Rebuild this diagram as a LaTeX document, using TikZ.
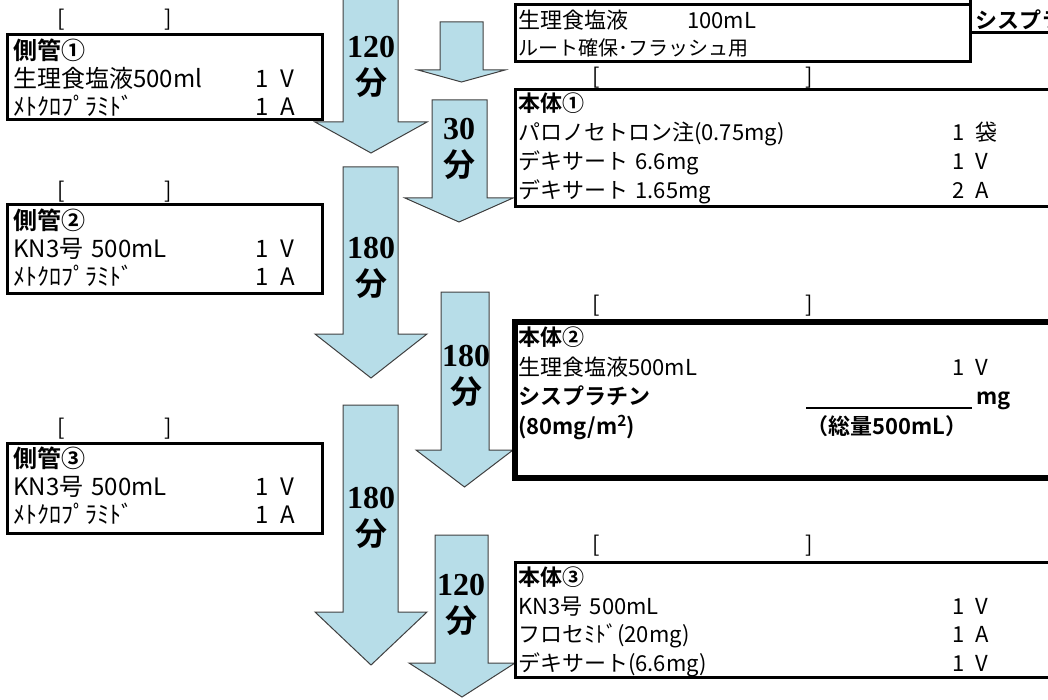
\documentclass[tikz,border=0pt]{standalone}
\usepackage{fontspec}
\setmainfont{Noto Sans CJK JP}[BoldFont={Noto Sans CJK JP Bold}]
\newfontfamily\numfont{Liberation Serif}
\usetikzlibrary{positioning}
\definecolor{flowblue}{RGB}{183,221,232}
\tikzstyle{flow} = [fill=flowblue, draw=black!75, line width=1pt, line join=miter]
\tikzstyle{minutes} = [inner sep=0pt, align=center, font=\bfseries\fontsize{32}{37}\selectfont]
\tikzstyle{sidebox} = [rectangle, draw=black, line width=3pt, outer sep=0pt, anchor=north west, minimum width=315pt]
\tikzstyle{mainbox} = [rectangle, draw=black, line width=3pt, outer sep=0pt, anchor=north west, minimum width=560pt]
\tikzstyle{boxtext} = [inner sep=0pt, align=left, text width=540pt, font=\fontsize{22}{29}\selectfont]
\tikzstyle{sidetext} = [boxtext, text width=300pt, font=\fontsize{24}{28}\selectfont]
\tikzstyle{bracket} = [inner sep=0pt, anchor=west, font=\fontsize{22}{22}\selectfont]
\newcommand{\flowarrow}[7]{%
  \draw[flow] (#1,#3) -- (#2,#3) -- (#2,#4) -- (#6,#4) -- ({(#5+#6)/2},#7) -- (#5,#4) -- (#1,#4) -- cycle;}

\begin{document}
\begin{tikzpicture}[x=1pt, y=-1pt]
\useasboundingbox (0,0) rectangle (1048,700);
\clip (0,0) rectangle (1048,700);

% block arrows
\flowarrow{343}{398}{-5}{122}{315}{427}{153}
\flowarrow{440}{483}{22}{70}{418}{505}{82}
\flowarrow{432}{487}{100}{198}{405}{513}{222}
\flowarrow{343}{398}{167}{334}{315}{427}{378}
\flowarrow{441}{489}{292}{450}{416}{513}{487}
\flowarrow{343}{398}{405}{612}{315}{427}{665}
\flowarrow{435}{488}{535}{663}{409}{515}{697}

\node[minutes] (min1) at (371,67) {{\numfont 120}\\分};
\node[minutes] (min2) at (459,149) {{\numfont 30}\\分};
\node[minutes] (min3) at (371,268) {{\numfont 180}\\分};
\node[minutes] (min4) at (466,376) {{\numfont 180}\\分};
\node[minutes] (min5) at (371,518) {{\numfont 180}\\分};
\node[minutes] (min6) at (461,605) {{\numfont 120}\\分};

% side lines
\node[sidebox, minimum height=85pt] (side1) at (7,35) {};
\node[sidebox, minimum height=88pt] (side2) at (7,205) {};
\node[sidebox, minimum height=90pt] (side3) at (7,443) {};

\node[bracket] (side1b) at (57,20) {[\hspace{100pt}]};
\node[bracket] (side2b) at (57,192) {[\hspace{100pt}]};
\node[bracket] (side3b) at (57,429) {[\hspace{100pt}]};

\node[sidetext, below right=4pt and 6pt of side1.north west] (side1t) {\textbf{側管①}\\
  \makebox[242pt][l]{生理食塩液500ml}1\enspace V\\
  \makebox[242pt][l]{ﾒﾄｸﾛﾌﾟﾗﾐﾄﾞ}1\enspace A};
\node[sidetext, below right=4pt and 6pt of side2.north west] (side2t) {\textbf{側管②}\\
  \makebox[242pt][l]{KN3号 500mL}1\enspace V\\
  \makebox[242pt][l]{ﾒﾄｸﾛﾌﾟﾗﾐﾄﾞ}1\enspace A};
\node[sidetext, below right=4pt and 6pt of side3.north west] (side3t) {\textbf{側管③}\\
  \makebox[242pt][l]{KN3号 500mL}1\enspace V\\
  \makebox[242pt][l]{ﾒﾄｸﾛﾌﾟﾗﾐﾄﾞ}1\enspace A};

% main line
\node[mainbox, minimum width=455pt, minimum height=57pt] (flush) at (515,5) {};
\node[mainbox, anchor=south west, minimum width=120pt, minimum height=70pt] (cis) at (970,33) {};
\node[bracket, font=\bfseries\fontsize{22}{22}\selectfont] (cist) at (975,20) {シスプラチン};

\node[mainbox, minimum height=117pt] (main1) at (515,90) {};
\node[mainbox, line width=6pt, minimum height=156pt] (main2) at (515,322) {};
\node[mainbox, minimum height=115pt] (main3) at (515,562) {};

\node[bracket] (main1b) at (592,78) {[\hspace{206pt}]};
\node[bracket] (main2b) at (592,306) {[\hspace{206pt}]};
\node[bracket] (main3b) at (592,546) {[\hspace{206pt}]};

\node[boxtext, below right=5pt and 3pt of flush.north west] (flusht) {\makebox[169pt][l]{生理食塩液}100mL\\[-2pt]
  {\fontsize{20}{20}\selectfont ルート確保･フラッシュ用}};
\node[boxtext, below right=3pt and 3pt of main1.north west] (main1t) {\textbf{本体①}\\
  \makebox[434pt][l]{パロノセトロン注(0.75mg)}1\enspace 袋\\
  \makebox[434pt][l]{デキサート 6.6mg}1\enspace V\\
  \makebox[434pt][l]{デキサート 1.65mg}2\enspace A};
\node[boxtext, font=\fontsize{22}{29.5}\selectfont, below right=5pt and 3pt of main2.north west] (main2t) {\textbf{本体②}\\
  \makebox[434pt][l]{生理食塩液500mL}1\enspace V\\
  \makebox[288pt][l]{\textbf{シスプラチン}}\rule[-4pt]{166pt}{2pt}\hspace{4pt}\textbf{mg}\\
  \makebox[288pt][l]{\textbf{(80mg/m\textsuperscript{2})}}\textbf{（総量500mL）}};
\node[boxtext, font=\fontsize{22}{28.5}\selectfont, below right=5pt and 3pt of main3.north west] (main3t) {\textbf{本体③}\\
  \makebox[434pt][l]{KN3号 500mL}1\enspace V\\
  \makebox[434pt][l]{フロセﾐﾄﾞ(20mg)}1\enspace A\\
  \makebox[434pt][l]{デキサート(6.6mg)}1\enspace V};

\end{tikzpicture}
\end{document}
